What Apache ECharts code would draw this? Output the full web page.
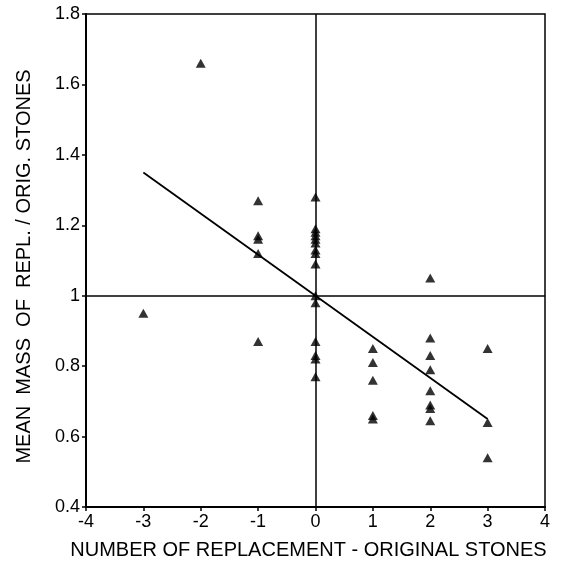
<!DOCTYPE html>
<html>
<head>
<meta charset="utf-8">
<script src="https://cdn.jsdelivr.net/npm/echarts@6/dist/echarts.min.js"></script>
<style>html,body{margin:0;padding:0;background:#fff;}#c{width:566px;height:566px;}</style>
</head>
<body>
<div id="c"></div>
<script>
// Data
var diffX = [-3, -2,
  -1, -1, -1, -1, -1,
  0, 0, 0, 0, 0, 0, 0, 0, 0, 0, 0, 0, 0, 0, 0,
  1, 1, 1, 1, 1,
  2, 2, 2, 2, 2, 2, 2, 2,
  3, 3, 3];
var massRatio = [0.95, 1.66,
  1.27, 1.17, 1.16, 1.12, 0.87,
  1.28, 1.19, 1.18, 1.17, 1.16, 1.15, 1.13, 1.12, 1.09, 1.00, 0.98, 0.87, 0.83, 0.82, 0.77,
  0.85, 0.81, 0.76, 0.66, 0.65,
  1.05, 0.88, 0.83, 0.79, 0.73, 0.69, 0.68, 0.645,
  0.85, 0.64, 0.54];
var fitX = [-3, 3];
var fitY = [1.35, 0.65];
var xTicks = [-4, -3, -2, -1, 0, 1, 2, 3, 4];
var yTicks = [0.4, 0.6, 0.8, 1, 1.2, 1.4, 1.6, 1.8];

var pts = diffX.map(function (x, i) { return [x, massRatio[i]]; });
var fitPts = fitX.map(function (x, i) { return [x, fitY[i]]; });

var font = 'Liberation Sans, Arial, Helvetica, sans-serif';
var chart = echarts.init(document.getElementById('c'), null, {renderer: 'canvas'});
chart.setOption({
  animation: false,
  backgroundColor: '#fff',
  grid: {left: 86, right: 21, top: 14, bottom: 59, show: true, borderColor: '#000', borderWidth: 1.5, backgroundColor: 'transparent'},
  xAxis: {
    type: 'value', min: -4, max: 4, interval: 1,
    name: 'NUMBER OF REPLACEMENT - ORIGINAL STONES',
    nameLocation: 'middle', nameGap: 33,
    nameTextStyle: {fontFamily: font, fontSize: 20, color: '#000', padding: [0, 14, 0, 0]},
    axisLine: {show: true, onZero: false, lineStyle: {color: '#000', width: 2}},
    axisTick: {show: true, length: 4, lineStyle: {color: '#000', width: 1.5}},
    axisLabel: {fontFamily: font, fontSize: 18, color: '#000', margin: 6,
      formatter: function (v) { return xTicks.indexOf(v) >= 0 ? String(v) : ''; }},
    splitLine: {show: false}
  },
  yAxis: {
    type: 'value', min: 0.4, max: 1.8, interval: 0.2,
    name: 'MEAN  MASS  OF  REPL. / ORIG. STONES',
    nameLocation: 'middle', nameGap: 52,
    nameTextStyle: {fontFamily: font, fontSize: 20, color: '#000', padding: [0, 12, 0, 0]},
    axisLine: {show: true, onZero: false, lineStyle: {color: '#000', width: 2}},
    axisTick: {show: true, length: 4, lineStyle: {color: '#000', width: 1.5}},
    axisLabel: {fontFamily: font, fontSize: 18, color: '#000', margin: 6,
      formatter: function (v) {
        var r = Math.round(v * 10) / 10;
        return yTicks.indexOf(r) >= 0 ? String(r) : '';
      }},
    splitLine: {show: false}
  },
  series: [
    {
      type: 'scatter',
      data: pts,
      symbol: 'triangle',
      symbolSize: [10, 9],
      itemStyle: {color: '#000'},
      markLine: {
        silent: true,
        symbol: ['none', 'none'],
        label: {show: false},
        lineStyle: {color: '#000', width: 1.5, type: 'solid'},
        data: [{xAxis: 0}, {yAxis: 1}]
      },
      z: 3
    },
    {
      type: 'line',
      data: fitPts,
      symbol: 'none',
      lineStyle: {color: '#000', width: 1.8},
      z: 2
    }
  ]
});
</script>
</body>
</html>
